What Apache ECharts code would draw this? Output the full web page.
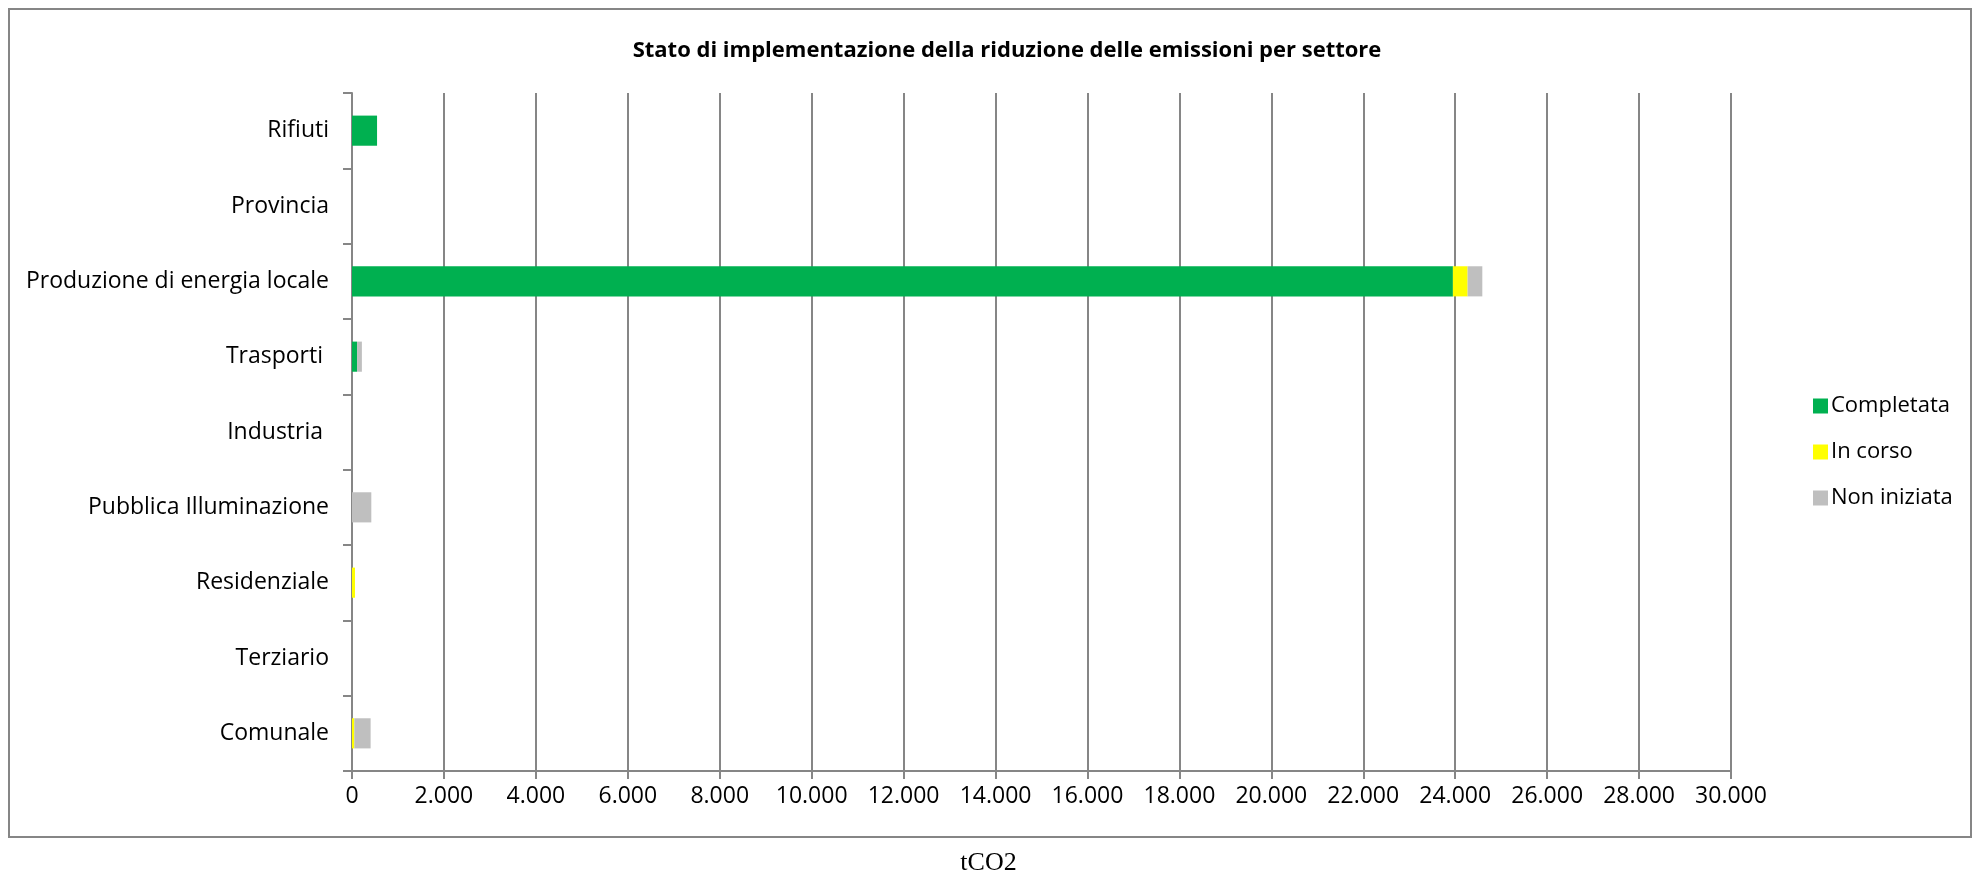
<!DOCTYPE html>
<html>
<head>
<meta charset="utf-8">
<script src="https://cdn.jsdelivr.net/npm/echarts@6/dist/echarts.min.js"></script>
<style>
  html, body { margin: 0; padding: 0; background: #fff; }
  #chart { width: 1977px; height: 888px; }
</style>
</head>
<body>
<div id="chart"></div>
<script>
// Sectors, listed bottom to top as drawn on the category axis
const sectors = [
  'Comunale',
  'Terziario',
  'Residenziale',
  'Pubblica Illuminazione',
  'Industria ',
  'Trasporti ',
  'Produzione di energia locale',
  'Provincia',
  'Rifiuti'
];

// Emission reductions (tCO2) by implementation status
const completata  = [0, 0, 0, 0, 0, 110, 23950, 0, 545];
const inCorso     = [50, 0, 65, 0, 0, 0, 320, 0, 0];
const nonIniziata = [355, 0, 0, 420, 0, 105, 320, 0, 0];

const seriesNames = ['Completata', 'In corso', 'Non iniziata'];
const seriesColors = ['#00b050', '#ffff00', '#bfbfbf'];

const FONT = '"Open Sans", "Noto Sans", sans-serif';
const GRAY = '#868686';

function fmt(v) {
  return String(v).replace(/\B(?=(\d{3})+(?!\d))/g, '.');
}

const chart = echarts.init(document.getElementById('chart'), null, { renderer: 'canvas' });

const dataSets = [completata, inCorso, nonIniziata];

chart.setOption({
  backgroundColor: '#ffffff',
  animation: false,
  title: {
    text: 'Stato di implementazione della riduzione delle emissioni per settore',
    left: 1002,
    textAlign: 'center',
    top: 35,
    textStyle: { fontFamily: FONT, fontSize: 22, fontWeight: 'bold', color: '#000' }
  },
  legend: {
    orient: 'vertical',
    left: 1808,
    top: 390,
    itemWidth: 15,
    itemHeight: 15,
    itemGap: 24,
    icon: 'rect',
    data: seriesNames,
    textStyle: { fontFamily: FONT, fontSize: 22, color: '#000', padding: [0, 0, 0, -2] }
  },
  grid: { left: 352, right: 246, top: 93, bottom: 117 },
  xAxis: {
    type: 'value',
    min: 0,
    max: 30000,
    interval: 2000,
    axisLine: { show: true, lineStyle: { color: GRAY, width: 2 } },
    axisTick: { show: true, length: 8, lineStyle: { color: GRAY, width: 2 } },
    splitLine: { show: true, lineStyle: { color: GRAY, width: 2 } },
    axisLabel: {
      margin: 14,
      fontFamily: FONT, fontSize: 23, color: '#000',
      formatter: fmt
    }
  },
  yAxis: {
    type: 'category',
    data: sectors,
    axisLine: { show: true, lineStyle: { color: GRAY, width: 2 } },
    axisTick: { show: true, length: 9, lineStyle: { color: GRAY, width: 2 } },
    axisLabel: { margin: 23, fontFamily: FONT, fontSize: 23, color: '#000' }
  },
  graphic: [
    {
      type: 'rect',
      shape: { x: 9, y: 9, width: 1962, height: 828 },
      style: { fill: 'none', stroke: GRAY, lineWidth: 2 },
      silent: true
    },
    {
      type: 'text',
      left: 'center',
      top: 850,
      style: {
        text: 'tCO2',
        font: '26px "Liberation Serif", "Times New Roman", serif',
        fill: '#000'
      }
    }
  ],
  series: seriesNames.map((name, i) => ({
    name: name,
    type: 'bar',
    stack: 'totale',
    barCategoryGap: '60%',
    itemStyle: { color: seriesColors[i] },
    data: dataSets[i]
  }))
});
</script>
</body>
</html>
